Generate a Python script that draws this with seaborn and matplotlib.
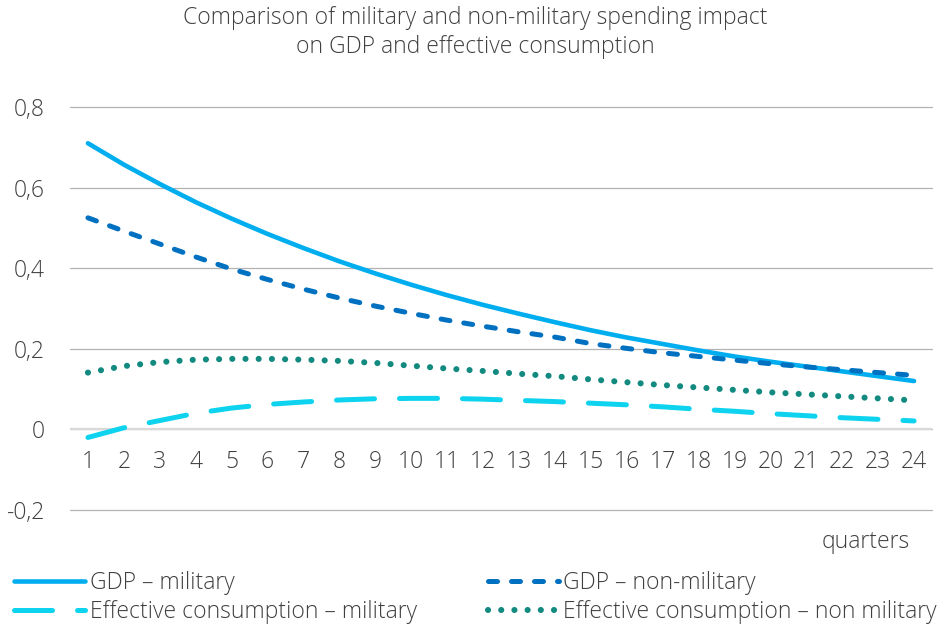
import pandas as pd
import seaborn as sns
import matplotlib.pyplot as plt

quarters = list(range(1, 25))

gdp_military = [0.710, 0.657, 0.609, 0.564, 0.523, 0.485, 0.450, 0.417, 0.387, 0.359,
                0.333, 0.309, 0.287, 0.266, 0.246, 0.228, 0.212, 0.196, 0.181, 0.168,
                0.156, 0.144, 0.132, 0.120]
gdp_non_military = [0.525, 0.492, 0.460, 0.428, 0.398, 0.372, 0.348, 0.326, 0.306, 0.288,
                    0.271, 0.256, 0.242, 0.229, 0.213, 0.201, 0.190, 0.181, 0.172, 0.163,
                    0.155, 0.148, 0.141, 0.134]
cons_military = [-0.020, 0.004, 0.022, 0.040, 0.053, 0.062, 0.068, 0.073, 0.076, 0.077,
                 0.077, 0.075, 0.072, 0.069, 0.065, 0.061, 0.056, 0.050, 0.045, 0.039,
                 0.034, 0.029, 0.025, 0.021]
cons_non_military = [0.141, 0.157, 0.167, 0.173, 0.175, 0.175, 0.173, 0.170, 0.165, 0.158,
                     0.151, 0.145, 0.138, 0.132, 0.124, 0.117, 0.110, 0.104, 0.098, 0.092,
                     0.087, 0.082, 0.077, 0.072]

y_ticks = [-0.2, 0, 0.2, 0.4, 0.6, 0.8]
y_labels = ["-0,2", "0", "0,2", "0,4", "0,6", "0,8"]

sns.set_style("white")
plt.rcParams['font.family'] = ['Open Sans', 'DejaVu Sans']
txt = '#404040'
fs = 16.5

fig = plt.figure(figsize=(9.5, 6.28), dpi=100)
ax = fig.add_axes([70 / 950, 1 - 510 / 628, 862 / 950, 403 / 628])

lw = 3.6
sns.lineplot(x=quarters, y=gdp_military, ax=ax, color='#00aeef', lw=3.3,
             solid_capstyle='round', label='GDP – military')
sns.lineplot(x=quarters, y=cons_military, ax=ax, color='#0dd3ef', lw=lw,
             linestyle=(0, (7.6, 5.0)), dash_capstyle='round',
             label='Effective consumption – military')
sns.lineplot(x=quarters, y=gdp_non_military, ax=ax, color='#0070c0', lw=lw,
             linestyle=(0, (1.8, 2.8)), dash_capstyle='round',
             label='GDP – non-military')
sns.lineplot(x=quarters, y=cons_non_military, ax=ax, color='#138a80', lw=4.4,
             linestyle=(0, (0.01, 2.15)), dash_capstyle='round',
             label='Effective consumption – non military')

ax.set_xlim(0.5, 24.5)
ax.set_ylim(-0.2, 0.8)
ax.set_yticks(y_ticks)
ax.set_yticklabels(y_labels)
ax.set_xticks(quarters)
ax.grid(axis='y', color='#b3b3b3', lw=0.9)
for gl in ax.get_ygridlines():
    gl.set_clip_on(False)
ax.axhline(0, color='#d9d9d9', lw=1.6, zorder=1)
for s in ax.spines.values():
    s.set_visible(False)
ax.spines['bottom'].set_position(('data', 0))
ax.tick_params(axis='x', length=0, pad=15, labelsize=fs, labelcolor=txt)
ax.tick_params(axis='y', length=0, pad=18, labelsize=fs, labelcolor=txt)
for t in ax.get_xticklabels() + ax.get_yticklabels():
    t.set_fontweight('light')
ax.set_xlabel('')
ax.set_ylabel('')

handles, labels = ax.get_legend_handles_labels()
ax.get_legend().remove()
leg = fig.legend(handles, labels, ncol=2, loc='upper left',
                 bbox_to_anchor=(14 / 950, 1 - 571 / 628), frameon=False,
                 fontsize=fs, handlelength=3.1, handletextpad=0.2,
                 columnspacing=3.1, labelspacing=0.2, borderpad=0, borderaxespad=0)
for t in leg.get_texts():
    t.set_color(txt)
    t.set_fontweight('light')

fig.text(910 / 950, 1 - 542 / 628, 'quarters', ha='right', va='center',
         fontsize=fs, color=txt, fontweight='light')
fig.text(475 / 950, 1 - 18 / 628, 'Comparison of military and non-military spending impact',
         ha='center', va='center', fontsize=fs, color=txt, fontweight='light')
fig.text(475 / 950, 1 - 47 / 628, 'on GDP and effective consumption',
         ha='center', va='center', fontsize=fs, color=txt, fontweight='light')

fig.savefig('out.png', dpi=100)
